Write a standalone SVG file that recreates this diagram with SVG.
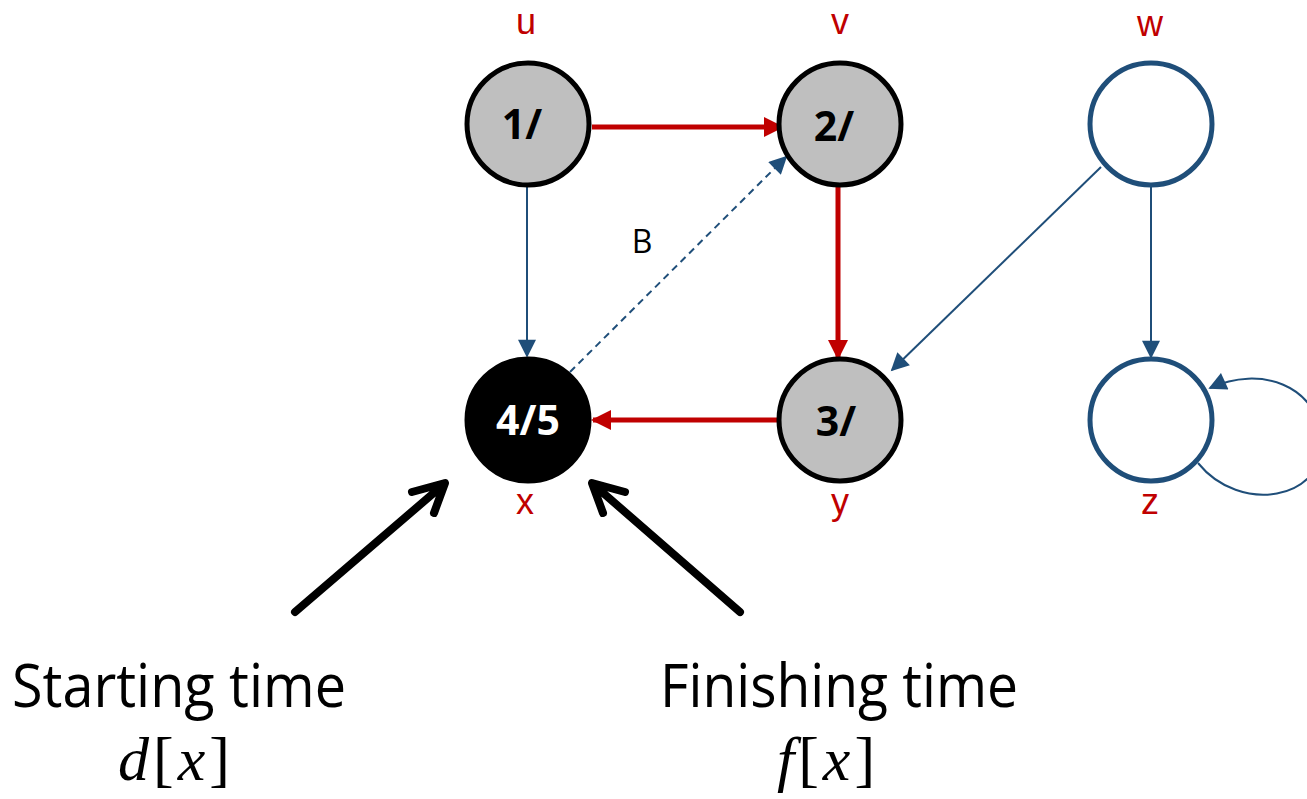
<svg xmlns="http://www.w3.org/2000/svg" width="1307" height="799" viewBox="0 0 1307 799">
<defs>
<marker id="ar" viewBox="0 0 10 10" refX="9" refY="5" markerWidth="5" markerHeight="4" orient="auto" markerUnits="strokeWidth"><path d="M0,0L10,5L0,10z" fill="#C00000"/></marker>
<marker id="ab" viewBox="0 0 10 10" refX="9" refY="5" markerWidth="11" markerHeight="9" orient="auto" markerUnits="strokeWidth"><path d="M0,0L10,5L0,10z" fill="#1F4E79"/></marker>
</defs>
<style>
.g{fill:#BFBFBF;stroke:#000;stroke-width:5}
.k{fill:#000;stroke:#000;stroke-width:5}
.o{fill:#fff;stroke:#1F4E79;stroke-width:5}
.lbl{font-family:"Liberation Sans","Open Sans",sans-serif;font-size:36px;fill:#C00000;text-anchor:middle}
.nt{font-family:"Open Sans","Liberation Sans",sans-serif;font-size:41px;font-weight:bold;text-anchor:middle}
.red{stroke:#C00000;stroke-width:5;fill:none;marker-end:url(#ar)}
.blue{stroke:#1F4E79;stroke-width:2;fill:none;marker-end:url(#ab)}
.blk{stroke:#000;stroke-width:8;fill:none;stroke-linecap:round;stroke-linejoin:round}
.big{font-family:"Open Sans","Liberation Sans",sans-serif;font-size:60px;fill:#000;text-anchor:middle}
.m{font-family:"Liberation Serif",serif;font-size:62px;fill:#000;text-anchor:middle;letter-spacing:4px}
</style>
<g id="connectors">
<line class="red" x1="592" y1="127" x2="782" y2="127"/>
<line class="red" x1="838" y1="186" x2="838" y2="358"/>
<line class="red" x1="778" y1="420" x2="593" y2="420"/>
<line class="blue" x1="527" y1="187" x2="527" y2="356"/>
<line class="blue" x1="570" y1="372" x2="786" y2="157" stroke-dasharray="7,5"/>
<line class="blue" x1="1101" y1="167" x2="892" y2="370"/>
<line class="blue" x1="1151" y1="187" x2="1151" y2="357"/>
<path class="blue" d="M1198,463 C1240,515 1325,500 1322,440 C1318,385 1260,365 1210,388"/>
<path class="blk" d="M295,612 L443,485 M412,492 L445,483 L434,513"/>
<path class="blk" d="M740,612 L594,485 M625,492 L592,483 L603,513"/>
<text x="642" y="253" font-family="Open Sans, Liberation Sans, sans-serif" font-size="32" text-anchor="middle">B</text>
</g>
<g id="u"><circle class="g" cx="528" cy="124" r="61"/><text class="nt" x="522" y="139">1/</text><text class="lbl" x="526" y="34">u</text></g>
<g id="v"><circle class="g" cx="840" cy="124" r="61"/><text class="nt" x="834" y="141">2/</text><text class="lbl" x="840" y="34">v</text></g>
<g id="w"><circle class="o" cx="1151" cy="124" r="61"/><text class="lbl" x="1150" y="36">w</text></g>
<g id="x"><circle class="k" cx="528" cy="420" r="61"/><text class="nt" x="528" y="435" fill="#fff">4/5</text><text class="lbl" x="525" y="514">x</text></g>
<g id="y"><circle class="g" cx="840" cy="420" r="61"/><text class="nt" x="836" y="436">3/</text><text class="lbl" x="840" y="514">y</text></g>
<g id="z"><circle class="o" cx="1151" cy="420" r="61"/><text class="lbl" x="1150" y="514">z</text></g>
<g id="captions">
<text class="big" x="179" y="707" textLength="334" lengthAdjust="spacingAndGlyphs">Starting time</text>
<text class="m" x="176" y="780"><tspan font-style="italic">d</tspan>[<tspan font-style="italic">x</tspan>]</text>
<text class="big" x="839" y="707" textLength="358" lengthAdjust="spacingAndGlyphs">Finishing time</text>
<text class="m" x="828" y="780"><tspan font-style="italic">f</tspan>[<tspan font-style="italic">x</tspan>]</text>
</g>
</svg>
